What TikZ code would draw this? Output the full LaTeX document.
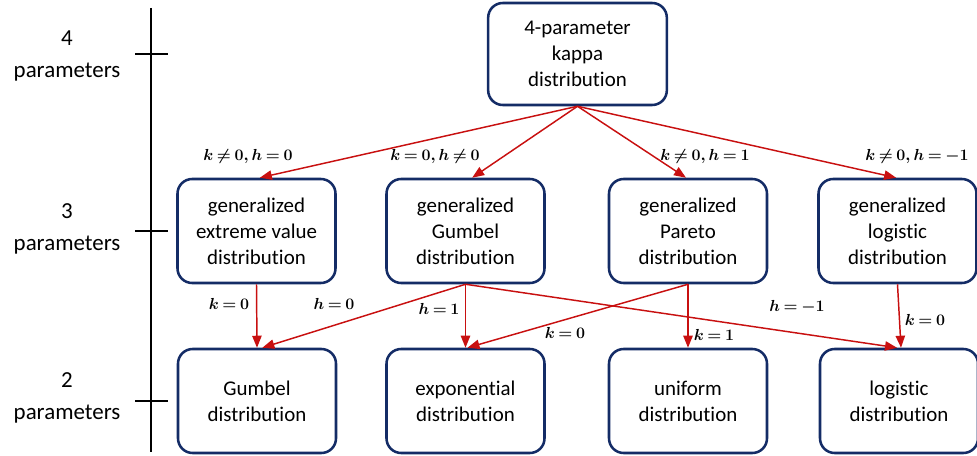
\documentclass[tikz,border=0pt]{standalone}
\usepackage{amsmath}
\usepackage{fontspec}
\setmainfont{Carlito}[Ligatures={NoCommon,NoContextual}]
\usetikzlibrary{arrows.meta}

\definecolor{boxblue}{RGB}{20,44,102}
\definecolor{arrowred}{RGB}{200,16,16}

\newcommand{\parmath}[1]{$\medmuskip=2.5mu\relax\thickmuskip=3.5mu\relax #1$}

\tikzset{
  distbox/.style={draw=boxblue,line width=1.9pt,rounded corners=11pt,fill=white,
    minimum width=118.5pt,minimum height=78pt,align=center,inner sep=2pt,
    font=\fontsize{15.7}{19.5}\selectfont},
  relarrow/.style={draw=arrowred,line width=1.1pt,-{Triangle[length=9pt,width=7pt]}},
  parlabel/.style={font=\fontsize{13}{15}\selectfont\boldmath,inner sep=1pt},
  levlabel/.style={align=center,font=\fontsize{17.2}{24}\selectfont}
}

\begin{document}
\begin{tikzpicture}[x=0.75pt,y=0.75pt,yscale=-1,xscale=1]
\useasboundingbox (0,0) rectangle (977,456);

%Axis
\draw [line width=1.1pt] (151,8) -- (151,452);
\draw [line width=1.6pt] (135,54) -- (168,54);
\draw [line width=1.6pt] (135,231) -- (168,231);
\draw [line width=1.6pt] (135,401) -- (168,401);

% Text Node
\node [levlabel] (lev4) at (67,56) {4\\parameters};
\node [levlabel] (lev3) at (67,229) {3\\parameters};
\node [levlabel] (lev2) at (67,398) {2\\parameters};

%Boxes
\node [distbox,minimum width=134pt,minimum height=76.5pt] (kappa) at (577.5,54) {4-parameter\\kappa\\distribution};

\node [distbox] (gev) at (256.5,231) {generalized\\extreme value\\distribution};
\node [distbox] (ggum) at (465.5,231) {generalized\\Gumbel\\distribution};
\node [distbox] (gpar) at (688,231) {generalized\\Pareto\\distribution};
\node [distbox] (glog) at (897.5,231) {generalized\\logistic\\distribution};

\node [distbox] (gum) at (257,401) {Gumbel\\distribution};
\node [distbox] (expo) at (465.5,401) {exponential\\distribution};
\node [distbox] (unif) at (688,401) {uniform\\distribution};
\node [distbox] (logi) at (899,401) {logistic\\distribution};

%Arrows
\draw [relarrow] (kappa.south) -- ([xshift=2.5pt]gev.north);
\draw [relarrow] (kappa.south) -- ([xshift=5pt]ggum.north);
\draw [relarrow] (kappa.south) -- ([xshift=-1.5pt]gpar.north);
\draw [relarrow] (kappa.south) -- ([xshift=-1pt]glog.north);

\draw [relarrow] (gev.south) -- (gum.north);
\draw [relarrow] (ggum.south) -- ([xshift=4pt]gum.north);
\draw [relarrow] (ggum.south) -- (expo.north);
\draw [relarrow] (ggum.south) -- ([xshift=-1.5pt]logi.north);
\draw [relarrow] (gpar.south) -- ([xshift=1.5pt]expo.north);
\draw [relarrow] (gpar.south) -- (unif.north);
\draw [relarrow] (glog.south) -- ([xshift=1.5pt]logi.north);

% Text Node
\node [parlabel] (lab1) at (248,157) {\parmath{k\neq 0, h=0}};
\node [parlabel] (lab2) at (435,157) {\parmath{k=0, h\neq 0}};
\node [parlabel] (lab3) at (705,157) {\parmath{k\neq 0, h=1}};
\node [parlabel] (lab4) at (917,157) {\parmath{k\neq 0, h=-1}};

\node [parlabel] (lab5) at (229,304) {\parmath{k=0}};
\node [parlabel] (lab6) at (334,304) {\parmath{h=0}};
\node [parlabel] (lab7) at (439,309) {\parmath{h=1}};
\node [parlabel] (lab8) at (565,333) {\parmath{k=0}};
\node [parlabel] (lab9) at (714,335) {\parmath{k=1}};
\node [parlabel] (lab10) at (797,307) {\parmath{h=-1}};
\node [parlabel] (lab11) at (925,320) {\parmath{k=0}};

\end{tikzpicture}
\end{document}
